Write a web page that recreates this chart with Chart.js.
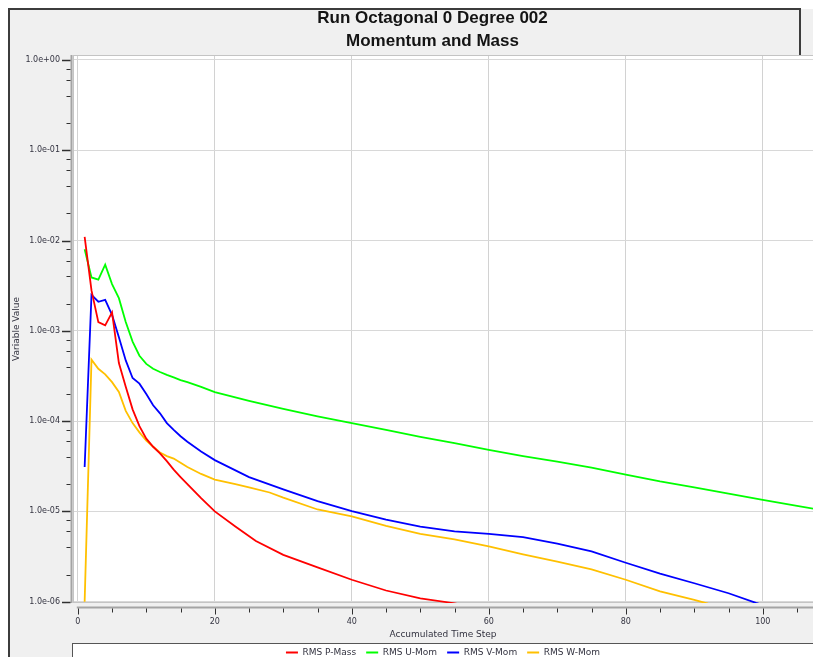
<!DOCTYPE html>
<html>
<head>
<meta charset="utf-8">
<script src="https://cdn.jsdelivr.net/npm/chart.js@4.4.1/dist/chart.umd.min.js"></script>
<style>
  html, body { margin: 0; padding: 0; background: #ffffff; overflow: hidden; }
  #wrap { position: relative; width: 813px; height: 657px; overflow: hidden; }
  canvas { display: block; }
</style>
</head>
<body>
<div id="wrap"><canvas id="monitor" width="813" height="680"></canvas></div>
<script>
// ---- Chart text ----
const titleLines = ['Run Octagonal 0 Degree 002', 'Momentum and Mass'];
const xAxisTitle = 'Accumulated Time Step';
const yAxisTitle = 'Variable Value';
const seriesNames = ['RMS P-Mass', 'RMS U-Mom', 'RMS V-Mom', 'RMS W-Mom'];
const seriesColors = ['#ff0000', '#00ff00', '#0000ff', '#ffc000'];

// ---- Axis ticks ----
const xTickValues = [0, 20, 40, 60, 80, 100];
const yTickValues = [1e0, 1e-1, 1e-2, 1e-3, 1e-4, 1e-5, 1e-6];
const yTickLabels = ['1.0e+00', '1.0e-01', '1.0e-02', '1.0e-03', '1.0e-04', '1.0e-05', '1.0e-06'];

// ---- Residual histories (time step, RMS value) ----
const pMassSteps  = [1, 2, 3, 4, 5, 6, 7, 8, 9, 10, 11, 12, 13, 14, 15, 16, 18, 20, 23, 26, 30, 35, 40, 45, 50, 55, 56];
const pMassValues = [1.1e-2, 2.8e-3, 1.25e-3, 1.15e-3, 1.6e-3, 4.4e-4, 2.4e-4, 1.35e-4, 8.8e-5, 6.4e-5, 5.2e-5, 4.4e-5, 3.6e-5, 2.9e-5, 2.4e-5, 2.0e-5, 1.4e-5, 1.0e-5, 6.8e-6, 4.7e-6, 3.3e-6, 2.4e-6, 1.75e-6, 1.33e-6, 1.09e-6, 0.96e-6, 0.92e-6];

const uMomSteps  = [1, 2, 3, 4, 5, 6, 7, 8, 9, 10, 11, 12, 13, 14, 15, 16, 18, 20, 25, 30, 35, 40, 45, 50, 55, 60, 65, 70, 75, 80, 85, 90, 95, 100, 105, 108];
const uMomValues = [8.0e-3, 3.9e-3, 3.7e-3, 5.4e-3, 3.3e-3, 2.3e-3, 1.25e-3, 7.6e-4, 5.3e-4, 4.3e-4, 3.8e-4, 3.5e-4, 3.25e-4, 3.05e-4, 2.85e-4, 2.7e-4, 2.4e-4, 2.1e-4, 1.68e-4, 1.37e-4, 1.13e-4, 9.5e-5, 8.0e-5, 6.7e-5, 5.7e-5, 4.8e-5, 4.1e-5, 3.55e-5, 3.05e-5, 2.55e-5, 2.15e-5, 1.85e-5, 1.57e-5, 1.34e-5, 1.15e-5, 1.05e-5];

const vMomSteps  = [1, 2, 3, 4, 5, 6, 7, 8, 9, 10, 11, 12, 13, 14, 15, 16, 18, 20, 25, 30, 35, 40, 45, 50, 55, 60, 65, 70, 75, 80, 85, 90, 95, 99, 100];
const vMomValues = [3.1e-5, 2.5e-3, 2.1e-3, 2.2e-3, 1.5e-3, 8.5e-4, 4.7e-4, 3.0e-4, 2.6e-4, 2.0e-4, 1.5e-4, 1.22e-4, 9.5e-5, 8.0e-5, 6.8e-5, 5.9e-5, 4.6e-5, 3.7e-5, 2.4e-5, 1.75e-5, 1.3e-5, 1.01e-5, 8.1e-6, 6.8e-6, 6.0e-6, 5.65e-6, 5.2e-6, 4.4e-6, 3.6e-6, 2.7e-6, 2.05e-6, 1.6e-6, 1.24e-6, 0.97e-6, 0.92e-6];

const wMomSteps  = [1, 2, 3, 4, 5, 6, 7, 8, 9, 10, 11, 12, 13, 14, 15, 16, 18, 20, 23, 25, 28, 30, 35, 40, 45, 50, 55, 60, 65, 70, 75, 80, 85, 90, 92];
const wMomValues = [1.0e-6, 4.8e-4, 3.8e-4, 3.3e-4, 2.7e-4, 2.1e-4, 1.3e-4, 9.5e-5, 7.5e-5, 6.1e-5, 5.2e-5, 4.5e-5, 4.1e-5, 3.85e-5, 3.45e-5, 3.1e-5, 2.6e-5, 2.25e-5, 2.0e-5, 1.85e-5, 1.62e-5, 1.42e-5, 1.05e-5, 8.8e-6, 6.9e-6, 5.65e-6, 4.9e-6, 4.1e-6, 3.35e-6, 2.78e-6, 2.28e-6, 1.75e-6, 1.3e-6, 1.05e-6, 0.95e-6];

const seriesSteps  = [pMassSteps, uMomSteps, vMomSteps, wMomSteps];
const seriesValues = [pMassValues, uMomValues, vMomValues, wMomValues];

Chart.defaults.font.family = '"DejaVu Sans", sans-serif';
Chart.defaults.color = '#333340';

const datasets = seriesNames.map((name, i) => ({
  label: name,
  data: seriesSteps[i].map((s, k) => ({ x: s, y: seriesValues[i][k] })),
  borderColor: seriesColors[i],
  backgroundColor: seriesColors[i],
  borderWidth: 1.8,
  pointRadius: 0,
  tension: 0,
  fill: false
}));

// Panel background, plot box, axis lines with major/minor tick marks, and the two-line heading
const monitorFrame = {
  id: 'monitorFrame',
  beforeDraw(chart) {
    const { ctx, chartArea: a, width, height } = chart;
    ctx.save();
    ctx.fillStyle = '#ffffff';
    ctx.fillRect(0, 0, width, height);
    ctx.fillStyle = '#f0f0f0';
    ctx.fillRect(9, 9, width, height);
    ctx.strokeStyle = '#3c3c3c';
    ctx.lineWidth = 2;
    ctx.beginPath();
    ctx.moveTo(9, height);
    ctx.lineTo(9, 9);
    ctx.lineTo(800, 9);
    ctx.lineTo(800, a.top);
    ctx.stroke();
    // plot background
    ctx.fillStyle = '#ffffff';
    ctx.fillRect(a.left, a.top, a.right - a.left, a.bottom - a.top);
    // legend panel
    const lgTop = Math.round(chart.legend.top) + 5;
    ctx.fillStyle = '#ffffff';
    ctx.fillRect(a.left - 1, lgTop, width, height);
    ctx.strokeStyle = '#555555';
    ctx.lineWidth = 1;
    ctx.strokeRect(a.left - 0.5, lgTop + 0.5, width, height);
    ctx.restore();
  },
  beforeDatasetsDraw(chart) {
    const { ctx, chartArea: a, scales } = chart;
    const xs = scales.x, ys = scales.y;
    ctx.save();
    // plot border
    ctx.strokeStyle = '#c4c4c4';
    ctx.lineWidth = 1;
    ctx.strokeRect(a.left + 0.5, a.top + 0.5, a.right - a.left, a.bottom - a.top - 1);
    // y axis line
    ctx.strokeStyle = '#a4a4a4';
    ctx.lineWidth = 2;
    ctx.beginPath();
    ctx.moveTo(a.left - 1.5, a.top);
    ctx.lineTo(a.left - 1.5, a.bottom);
    ctx.stroke();
    // y tick marks
    ctx.strokeStyle = '#303030';
    yTickValues.forEach(v => {
      const y = Math.round(ys.getPixelForValue(v)) + 0.5;
      ctx.lineWidth = 1.5;
      ctx.beginPath(); ctx.moveTo(a.left - 11, y); ctx.lineTo(a.left - 2.5, y); ctx.stroke();
    });
    ctx.lineWidth = 1;
    for (let e = -6; e <= 0; e++) {
      [2, 4, 6, 8].forEach(m => {
        const v = m * Math.pow(10, e);
        if (v > ys.max) return;
        const y = Math.round(ys.getPixelForValue(v)) + 0.5;
        ctx.beginPath(); ctx.moveTo(a.left - 6.5, y); ctx.lineTo(a.left - 2.5, y); ctx.stroke();
      });
    }
    // x axis line
    const x0 = xs.getPixelForValue(0);
    const axY = a.bottom + 4.5;
    ctx.strokeStyle = '#a4a4a4';
    ctx.lineWidth = 2;
    ctx.beginPath(); ctx.moveTo(x0 - 1, axY); ctx.lineTo(a.right, axY); ctx.stroke();
    // x tick marks
    ctx.strokeStyle = '#303030';
    ctx.lineWidth = 1;
    for (let v = 0; v <= xs.max; v += 5) {
      const x = Math.round(xs.getPixelForValue(v)) + 0.5;
      const len = (v % 20 === 0) ? 6 : 4;
      ctx.beginPath(); ctx.moveTo(x, axY + 1); ctx.lineTo(x, axY + 1 + len); ctx.stroke();
    }
    ctx.restore();
  },
  afterDraw(chart) {
    const { ctx } = chart;
    ctx.save();
    ctx.fillStyle = '#141414';
    ctx.font = 'bold 17px "Liberation Sans", Arial, sans-serif';
    ctx.textAlign = 'center';
    ctx.textBaseline = 'middle';
    ctx.fillText(titleLines[0], 432.5, 18.5);
    ctx.fillText(titleLines[1], 432.5, 41);
    ctx.restore();
  }
};

new Chart(document.getElementById('monitor'), {
  type: 'line',
  data: { datasets },
  plugins: [monitorFrame],
  options: {
    responsive: false,
    animation: false,
    devicePixelRatio: 1,
    layout: { padding: { top: 55, left: 0, right: 0, bottom: 13 } },
    plugins: {
      title: { display: false },
      tooltip: { enabled: false },
      legend: {
        position: 'bottom',
        fullSize: false,
        labels: {
          boxWidth: 12,
          boxHeight: 2,
          padding: 10,
          color: '#333340',
          font: { size: 9 },
          generateLabels(chart) {
            const items = Chart.defaults.plugins.legend.labels.generateLabels(chart);
            items.forEach(it => { it.lineWidth = 0; });
            return items;
          }
        }
      }
    },
    scales: {
      x: {
        type: 'linear',
        min: -0.7,
        max: 107.33,
        afterBuildTicks(scale) { scale.ticks = xTickValues.map(v => ({ value: v })); },
        afterFit(scale) { scale.height = 35; },
        grid: { color: '#d2d2d2', lineWidth: 1, drawTicks: false },
        border: { display: false },
        ticks: {
          padding: 14,
          autoSkip: false,
          maxRotation: 0,
          color: '#333340',
          font: { size: 8 },
          callback: v => String(v)
        },
        title: {
          display: true,
          text: xAxisTitle,
          color: '#333340',
          font: { size: 9 },
          padding: { top: 0, bottom: -2 }
        }
      },
      y: {
        type: 'logarithmic',
        min: 0.967e-6,
        max: 1.136,
        afterBuildTicks(scale) { scale.ticks = yTickValues.map(v => ({ value: v })); },
        afterFit(scale) { scale.width = 73; },
        grid: { color: '#d8d8d8', lineWidth: 1, drawTicks: false },
        border: { display: false },
        ticks: {
          padding: 13,
          autoSkip: false,
          color: '#333340',
          font: { size: 8 },
          callback: (v, i) => yTickLabels[i]
        },
        title: {
          display: true,
          text: yAxisTitle,
          color: '#333340',
          font: { size: 9 },
          padding: { top: 11.6, bottom: 0 }
        }
      }
    }
  }
});
</script>
</body>
</html>
